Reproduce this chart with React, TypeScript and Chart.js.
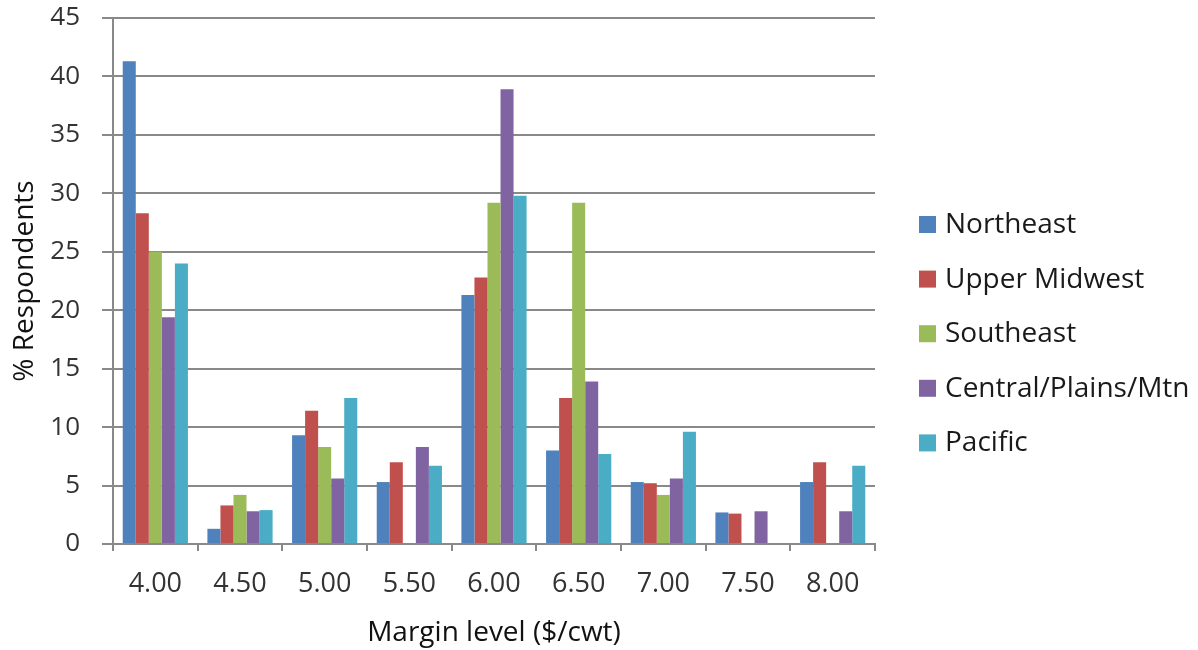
import React, { useEffect, useRef } from "react";
import { Chart, registerables } from "chart.js";

Chart.register(...registerables);

const categories = ["4.00", "4.50", "5.00", "5.50", "6.00", "6.50", "7.00", "7.50", "8.00"];
const northeast = [41.3, 1.3, 9.3, 5.3, 21.3, 8.0, 5.3, 2.7, 5.3];
const upperMidwest = [28.3, 3.3, 11.4, 7.0, 22.8, 12.5, 5.2, 2.6, 7.0];
const southeast = [25.0, 4.2, 8.3, 0, 29.2, 29.2, 4.2, 0, 0];
const centralPlainsMtn = [19.4, 2.8, 5.6, 8.3, 38.9, 13.9, 5.6, 2.8, 2.8];
const pacific = [24.0, 2.9, 12.5, 6.7, 29.8, 7.7, 9.6, 0, 6.7];
const seriesNames = ["Northeast", "Upper Midwest", "Southeast", "Central/Plains/Mtn", "Pacific"];
const seriesColors = ["#4F81BD", "#C0504D", "#9BBB59", "#8064A2", "#4BACC6"];

const FONT = "'Open Sans', 'Noto Sans', sans-serif";
const GRID = "#898989";

const legendPlugin = {
  id: "sideLegend",
  afterDraw(chart: any) {
    const ctx = chart.ctx;
    const x0 = 919;
    const y0 = 224;
    const step = 54.6;
    ctx.save();
    ctx.font = `28px ${FONT}`;
    ctx.textBaseline = "middle";
    ctx.textAlign = "left";
    chart.data.datasets.forEach((ds: any, i: number) => {
      const cy = y0 + i * step;
      ctx.fillStyle = ds.backgroundColor;
      ctx.fillRect(x0, cy - 8, 17, 17);
      ctx.fillStyle = "#1a1a1a";
      ctx.fillText(ds.label, x0 + 26, cy + 1);
    });
    ctx.restore();
  },
};

export default function App() {
  const ref = useRef<HTMLCanvasElement>(null);
  useEffect(() => {
    document.body.style.margin = "0";
    const seriesData = [northeast, upperMidwest, southeast, centralPlainsMtn, pacific];
    const chart = new Chart(ref.current!, {
      type: "bar",
      data: {
        labels: categories,
        datasets: seriesData.map((d, i) => ({
          label: seriesNames[i],
          data: d,
          backgroundColor: seriesColors[i],
          borderWidth: 0,
          categoryPercentage: 0.77,
          barPercentage: 1,
        })),
      },
      options: {
        animation: false,
        responsive: false,
        maintainAspectRatio: false,
        layout: { padding: { top: 0, right: 323, left: 0, bottom: 0 } },
        plugins: { legend: { display: false }, tooltip: { enabled: false } },
        scales: {
          x: {
            grid: { display: true, drawOnChartArea: false, drawTicks: true, offset: true, tickLength: 7, color: GRID, lineWidth: 2 },
            border: { display: true, color: GRID, width: 2 },
            ticks: { font: { family: FONT, size: 27 }, color: "#333", padding: 17 },
            title: { display: true, text: "Margin level ($/cwt)", font: { family: FONT, size: 28 }, color: "#111", padding: { top: 4, bottom: 0 } },
            afterFit: (s: any) => { s.height = 106; },
          },
          y: {
            min: 0,
            max: 45,
            ticks: { stepSize: 5, font: { family: FONT, size: 26 }, color: "#333", padding: 22 },
            grid: { color: GRID, lineWidth: 2, tickLength: 11 },
            border: { display: true, color: GRID, width: 2 },
            title: { display: true, text: "% Respondents", font: { family: FONT, size: 28 }, color: "#111", padding: { top: 8, bottom: 0 } },
            afterFit: (s: any) => { s.width = 113; s.paddingTop = 18; },
          },
        },
      },
      plugins: [legendPlugin],
    });
    return () => chart.destroy();
  }, []);
  return (
    <div style={{ width: 1198, height: 650 }}>
      <canvas ref={ref} width={1198} height={650} style={{ display: "block" }} />
    </div>
  );
}
